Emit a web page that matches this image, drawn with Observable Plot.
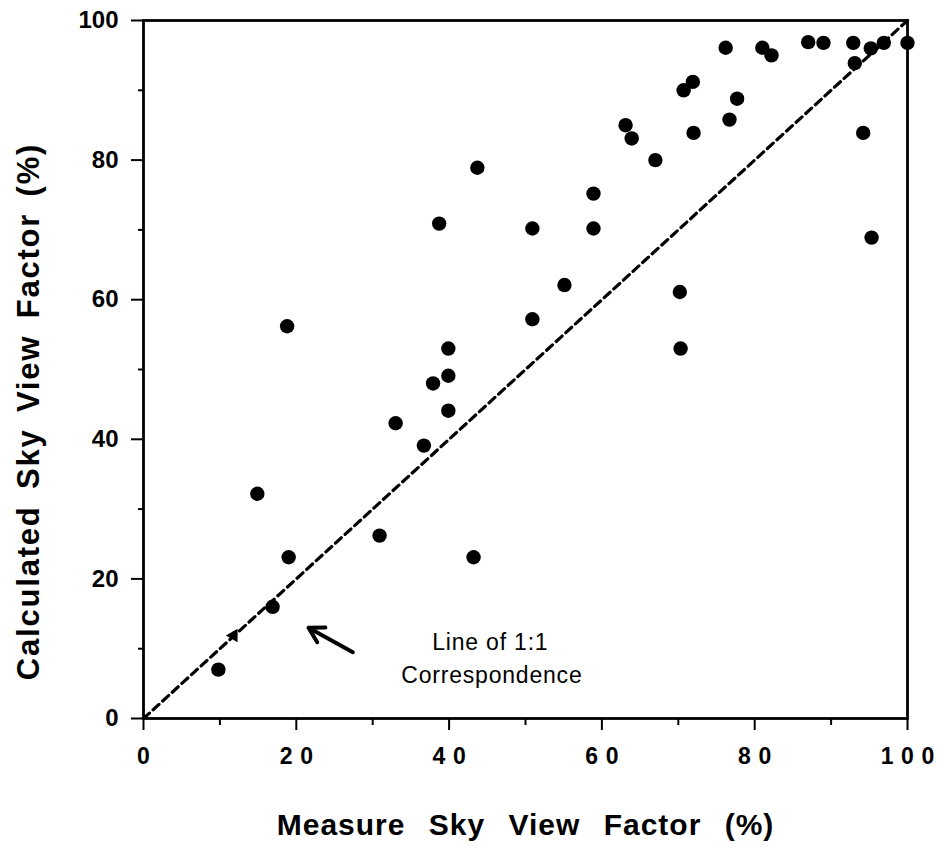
<!DOCTYPE html>
<html>
<head>
<meta charset="utf-8">
<script src="https://cdn.jsdelivr.net/npm/d3@7"></script>
<script src="https://cdn.jsdelivr.net/npm/@observablehq/plot@0.6"></script>
<style>
  html, body { margin: 0; padding: 0; background: #fff; }
  #chart { width: 940px; height: 851px; }
</style>
</head>
<body>
<div id="chart"></div>
<script>
// Measured vs calculated sky view factor (%)
const measured   = [9.8, 14.9, 16.9, 19.0, 18.8, 30.9, 33.0, 36.7, 37.9, 39.9, 39.9, 39.9, 38.7, 43.7, 43.2,
                    50.9, 50.9, 55.1, 58.9, 58.9, 63.1, 63.9, 67.0, 70.2, 70.3, 70.7, 71.9, 72.0, 76.2, 76.7,
                    77.7, 81.0, 82.2, 87.0, 89.0, 92.9, 93.1, 94.2, 95.3, 95.2, 96.9, 100];
const calculated = [7.0, 32.2, 16.0, 23.1, 56.2, 26.2, 42.3, 39.1, 48.0, 49.1, 44.1, 53.0, 70.9, 78.9, 23.1,
                    70.2, 57.2, 62.1, 75.2, 70.2, 85.0, 83.1, 80.0, 61.1, 53.0, 90.0, 91.2, 83.9, 96.1, 85.8,
                    88.8, 96.1, 95.0, 96.9, 96.8, 96.8, 93.9, 83.9, 68.9, 96.0, 96.8, 96.8];
// partially hidden point under the 1:1 line
const hiddenMeasured = [11.8];
const hiddenCalculated = [11.9];

const axisDomain = [0, 100];
const majorTicks = [0, 20, 40, 60, 80, 100];
const minorTicks = [10, 30, 50, 70, 90];

const xTitle = "Measure Sky View Factor (%)";
const yTitle = "Calculated Sky View Factor (%)";
const noteLines = ["Line of 1:1", "Correspondence"];
const noteX = [45.4, 45.6];
const noteY = [10.9, 6.2];
const arrowFrom = {x: 27.4, y: 9.5};
const arrowTo = {x: 21.6, y: 13.0};

const points = measured.map((m, i) => ({measured: m, calculated: calculated[i]}));
const hidden = hiddenMeasured.map((m, i) => ({measured: m, calculated: hiddenCalculated[i]}));
const notes = noteLines.map((t, i) => ({text: t, x: noteX[i], y: noteY[i]}));

const font = "'Liberation Sans', Arial, Helvetica, sans-serif";
// spaced-out digits on the x axis, as in the original
const spacedTick = d => String(d).split("").join("\u2004");

const chart = Plot.plot({
  width: 940,
  height: 851,
  marginLeft: 143,
  marginRight: 33,
  marginTop: 20,
  marginBottom: 133,
  style: {fontFamily: font, background: "#fff", color: "#000"},
  x: {domain: axisDomain},
  y: {domain: axisDomain},
  marks: [
    Plot.line(axisDomain, {x: d => d, y: d => d, stroke: "#000", strokeWidth: 3.2, strokeDasharray: "8,5"}),
    Plot.axisX(majorTicks, {tickSize: 12, tickPadding: 17, fontSize: 23, fontWeight: "bold", label: null, stroke: "#000", strokeWidth: 2, tickFormat: spacedTick}),
    Plot.axisX(minorTicks, {tickSize: 7, text: null, label: null, stroke: "#000", strokeWidth: 2}),
    Plot.axisY(majorTicks, {tickSize: 12, tickPadding: 13, fontSize: 24, fontWeight: "bold", label: null, stroke: "#000", strokeWidth: 2}),
    Plot.axisY(minorTicks, {tickSize: 5, text: null, label: null, stroke: "#000", strokeWidth: 2}),
    Plot.frame({stroke: "#000", strokeWidth: 2.8}),
    Plot.dot(points, {x: "measured", y: "calculated", r: 7.2, fill: "#000", stroke: "none"}),
    Plot.dot(hidden, {x: "measured", y: "calculated", r: 5, fill: "#000", stroke: "none", symbol: "triangle", rotate: -90}),
    Plot.arrow([{x1: arrowFrom.x, y1: arrowFrom.y, x2: arrowTo.x, y2: arrowTo.y}],
      {x1: "x1", y1: "y1", x2: "x2", y2: "y2", stroke: "#000", strokeWidth: 4, headLength: 16, headAngle: 60}),
    Plot.text(notes, {x: "x", y: "y", text: "text", fontSize: 23, fill: "#000", fontFamily: font}),
    Plot.text([xTitle], {frameAnchor: "bottom", textAnchor: "middle", dy: 116, fontSize: 30, fontWeight: "bold", fill: "#000"}),
    Plot.text([yTitle], {frameAnchor: "left", textAnchor: "middle", dx: -114, dy: 42, rotate: -90, fontSize: 31, fontWeight: "bold", fill: "#000"})
  ]
});
document.getElementById("chart").appendChild(chart);
const svg = d3.select(chart);
svg.selectAll("text").each(function () {
  const t = this.textContent;
  if (t === xTitle) d3.select(this).attr("letter-spacing", "1px").attr("word-spacing", "14px");
  else if (t === yTitle) d3.select(this).attr("letter-spacing", "1.8px").attr("word-spacing", "6px");
  else if (t === noteLines[0] || t === noteLines[1]) d3.select(this).attr("letter-spacing", "0.8px");
});
</script>
</body>
</html>
